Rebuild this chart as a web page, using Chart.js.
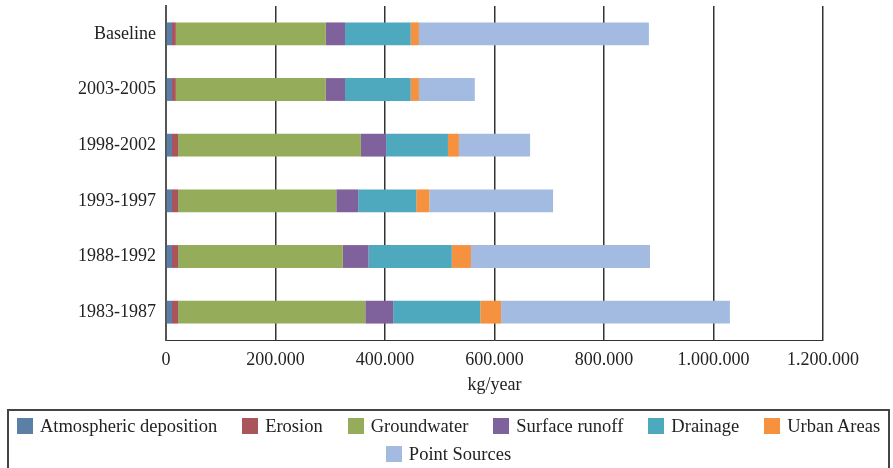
<!DOCTYPE html>
<html>
<head>
<meta charset="utf-8">
<script src="https://cdn.jsdelivr.net/npm/chart.js@4/dist/chart.umd.min.js"></script>
<style>
  html, body { margin: 0; padding: 0; background: #fff; }
  #wrap { position: relative; width: 893px; height: 468px; overflow: hidden; }
  #legend {
    position: absolute; left: 7px; top: 409px; width: 883px; height: 80px;
    border: 2px solid #444; box-sizing: border-box; padding-top: 1px;
    font-family: "Liberation Serif", "Times New Roman", serif; font-size: 18.5px; color: #222;
  }
  .row { display: flex; justify-content: center; align-items: center; height: 28px; }
  .item { display: flex; align-items: center; margin: 0 12.5px; white-space: nowrap; }
  .sw { width: 16px; height: 16px; margin-right: 7px; }
</style>
</head>
<body>
<div id="wrap">
  <canvas id="c" width="893" height="468"></canvas>
  <div id="legend"></div>
</div>
<script>
// Nitrogen loads by source, kg/year
const periods = ['Baseline', '2003-2005', '1998-2002', '1993-1997', '1988-1992', '1983-1987'];
const sourceNames = ['Atmospheric deposition', 'Erosion', 'Groundwater', 'Surface runoff', 'Drainage', 'Urban Areas', 'Point Sources'];
const atmospheric = [11000, 11000, 11000, 11000, 11000, 11000];
const erosion     = [7000, 7000, 11000, 11000, 11000, 11000];
const groundwater = [274000, 274000, 334000, 289000, 301000, 342000];
const surface     = [35000, 35000, 46000, 40000, 47000, 51000];
const drainage    = [120000, 120000, 113000, 106000, 152000, 159000];
const urban       = [15000, 15000, 20000, 24000, 35000, 38000];
const pointSrc    = [420000, 102000, 130000, 226000, 327000, 418000];
const xTicks = [0, 200000, 400000, 600000, 800000, 1000000, 1200000];

const colors = ['#5B7FA6', '#AA555C', '#95AC5A', '#7F619B', '#4EA8BE', '#F5913F', '#A3BBE0'];
const series = [atmospheric, erosion, groundwater, surface, drainage, urban, pointSrc];

const serif = '"Liberation Serif", "Times New Roman", serif';
const fmt = v => String(v).replace(/\B(?=(\d{3})+(?!\d))/g, '.');

new Chart(document.getElementById('c'), {
  type: 'bar',
  data: {
    labels: periods,
    datasets: series.map((d, i) => ({
      label: sourceNames[i],
      data: d,
      backgroundColor: colors[i],
      borderWidth: 0,
      barPercentage: 0.41,
      categoryPercentage: 1
    }))
  },
  options: {
    indexAxis: 'y',
    responsive: false,
    animation: false,
    layout: { padding: { top: 6, right: 70, bottom: 68, left: 0 } },
    plugins: { legend: { display: false }, tooltip: { enabled: false } },
    scales: {
      x: {
        stacked: true,
        min: 0, max: 1200000,
        afterBuildTicks: s => { s.ticks = xTicks.map(v => ({ value: v })); },
        afterFit: s => { s.height = 60; },
        grid: { color: '#333', lineWidth: 1.5, drawTicks: false },
        border: { color: '#333', width: 1 },
        ticks: { color: '#222', padding: 9, font: { family: serif, size: 18 }, callback: v => fmt(v), maxRotation: 0 },
        title: { display: true, text: 'kg/year', color: '#222', font: { family: serif, size: 18 }, padding: { top: 0, bottom: 4 } }
      },
      y: {
        stacked: true,
        afterFit: s => { s.width = 166; s.paddingTop = 0; s.paddingBottom = 0; },
        grid: { display: false, drawTicks: false },
        border: { color: '#555', width: 2 },
        ticks: { color: '#222', padding: 10, font: { family: serif, size: 18 } }
      }
    }
  }
});

// Legend below the plot, two centred rows
const legend = document.getElementById('legend');
const rows = [[0, 1, 2, 3, 4, 5], [6]];
rows.forEach(r => {
  const row = document.createElement('div');
  row.className = 'row';
  r.forEach(i => {
    const it = document.createElement('div');
    it.className = 'item';
    const sw = document.createElement('span');
    sw.className = 'sw';
    sw.style.background = colors[i];
    const tx = document.createElement('span');
    tx.textContent = sourceNames[i];
    it.appendChild(sw); it.appendChild(tx);
    row.appendChild(it);
  });
  legend.appendChild(row);
});
</script>
</body>
</html>
